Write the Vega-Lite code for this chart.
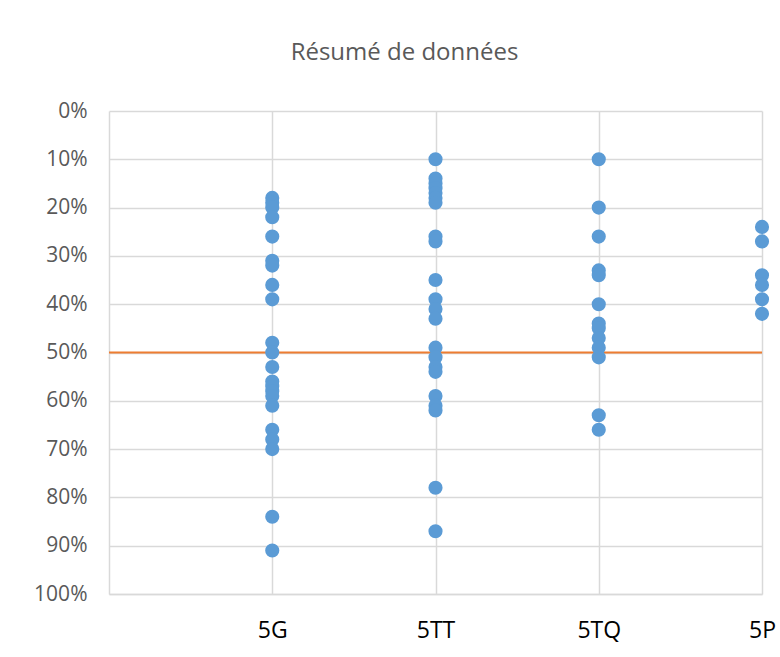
{
  "$schema": "https://vega.github.io/schema/vega-lite/v6.json",
  "width": 653,
  "height": 483,
  "autosize": "none",
  "padding": {"left": 109, "top": 111, "right": 18, "bottom": 63},
  "background": "white",
  "title": {
    "text": "Résumé de données",
    "font": "Open Sans",
    "fontSize": 24,
    "fontWeight": "normal",
    "color": "#595959",
    "anchor": "middle",
    "baseline": "alphabetic",
    "dx": -31,
    "offset": 16
  },
  "config": {
    "view": {"stroke": null},
    "axis": {
      "labelFont": "Open Sans",
      "labelColor": "#595959",
      "gridColor": "#d9d9d9",
      "gridWidth": 1.5,
      "domainColor": "#d9d9d9",
      "domainWidth": 1.5,
      "ticks": false,
      "tickSize": 0,
      "title": null
    }
  },
  "layer": [
    {
      "data": {"values": [{"seuil": 0.5}]},
      "mark": {"type": "rule", "color": "#ed7d31", "strokeWidth": 2},
      "encoding": {"y": {"field": "seuil", "type": "quantitative", "scale": {"domain": [0, 1], "reverse": true}}}
    },
    {
      "data": {
        "values": [
          {"classe": "5G", "rang": 1, "valeur": 0.18},
          {"classe": "5G", "rang": 1, "valeur": 0.19},
          {"classe": "5G", "rang": 1, "valeur": 0.20},
          {"classe": "5G", "rang": 1, "valeur": 0.22},
          {"classe": "5G", "rang": 1, "valeur": 0.26},
          {"classe": "5G", "rang": 1, "valeur": 0.31},
          {"classe": "5G", "rang": 1, "valeur": 0.32},
          {"classe": "5G", "rang": 1, "valeur": 0.36},
          {"classe": "5G", "rang": 1, "valeur": 0.39},
          {"classe": "5G", "rang": 1, "valeur": 0.48},
          {"classe": "5G", "rang": 1, "valeur": 0.50},
          {"classe": "5G", "rang": 1, "valeur": 0.53},
          {"classe": "5G", "rang": 1, "valeur": 0.56},
          {"classe": "5G", "rang": 1, "valeur": 0.57},
          {"classe": "5G", "rang": 1, "valeur": 0.58},
          {"classe": "5G", "rang": 1, "valeur": 0.59},
          {"classe": "5G", "rang": 1, "valeur": 0.61},
          {"classe": "5G", "rang": 1, "valeur": 0.66},
          {"classe": "5G", "rang": 1, "valeur": 0.68},
          {"classe": "5G", "rang": 1, "valeur": 0.70},
          {"classe": "5G", "rang": 1, "valeur": 0.84},
          {"classe": "5G", "rang": 1, "valeur": 0.91},
          {"classe": "5TT", "rang": 2, "valeur": 0.10},
          {"classe": "5TT", "rang": 2, "valeur": 0.14},
          {"classe": "5TT", "rang": 2, "valeur": 0.15},
          {"classe": "5TT", "rang": 2, "valeur": 0.16},
          {"classe": "5TT", "rang": 2, "valeur": 0.17},
          {"classe": "5TT", "rang": 2, "valeur": 0.18},
          {"classe": "5TT", "rang": 2, "valeur": 0.19},
          {"classe": "5TT", "rang": 2, "valeur": 0.26},
          {"classe": "5TT", "rang": 2, "valeur": 0.27},
          {"classe": "5TT", "rang": 2, "valeur": 0.35},
          {"classe": "5TT", "rang": 2, "valeur": 0.39},
          {"classe": "5TT", "rang": 2, "valeur": 0.41},
          {"classe": "5TT", "rang": 2, "valeur": 0.43},
          {"classe": "5TT", "rang": 2, "valeur": 0.49},
          {"classe": "5TT", "rang": 2, "valeur": 0.51},
          {"classe": "5TT", "rang": 2, "valeur": 0.53},
          {"classe": "5TT", "rang": 2, "valeur": 0.54},
          {"classe": "5TT", "rang": 2, "valeur": 0.59},
          {"classe": "5TT", "rang": 2, "valeur": 0.61},
          {"classe": "5TT", "rang": 2, "valeur": 0.62},
          {"classe": "5TT", "rang": 2, "valeur": 0.78},
          {"classe": "5TT", "rang": 2, "valeur": 0.87},
          {"classe": "5TQ", "rang": 3, "valeur": 0.10},
          {"classe": "5TQ", "rang": 3, "valeur": 0.20},
          {"classe": "5TQ", "rang": 3, "valeur": 0.26},
          {"classe": "5TQ", "rang": 3, "valeur": 0.33},
          {"classe": "5TQ", "rang": 3, "valeur": 0.34},
          {"classe": "5TQ", "rang": 3, "valeur": 0.40},
          {"classe": "5TQ", "rang": 3, "valeur": 0.44},
          {"classe": "5TQ", "rang": 3, "valeur": 0.45},
          {"classe": "5TQ", "rang": 3, "valeur": 0.47},
          {"classe": "5TQ", "rang": 3, "valeur": 0.49},
          {"classe": "5TQ", "rang": 3, "valeur": 0.51},
          {"classe": "5TQ", "rang": 3, "valeur": 0.63},
          {"classe": "5TQ", "rang": 3, "valeur": 0.66},
          {"classe": "5P", "rang": 4, "valeur": 0.24},
          {"classe": "5P", "rang": 4, "valeur": 0.27},
          {"classe": "5P", "rang": 4, "valeur": 0.34},
          {"classe": "5P", "rang": 4, "valeur": 0.36},
          {"classe": "5P", "rang": 4, "valeur": 0.39},
          {"classe": "5P", "rang": 4, "valeur": 0.42}
        ]
      },
      "mark": {"type": "circle", "size": 200, "opacity": 1, "color": "#5b9bd5"},
      "encoding": {
        "x": {
          "field": "rang",
          "type": "quantitative",
          "scale": {"domain": [0, 4], "nice": false},
          "axis": {
            "values": [1, 2, 3, 4],
            "labelExpr": "datum.value == 1 ? '5G' : datum.value == 2 ? '5TT' : datum.value == 3 ? '5TQ' : '5P'",
            "grid": true,
            "labelFontSize": 23,
            "labelBaseline": "alphabetic",
            "labelPadding": 43,
            "labelColor": "#000000",
            "labelFlush": false,
            "labelOverlap": false
          }
        },
        "y": {
          "field": "valeur",
          "type": "quantitative",
          "scale": {"domain": [0, 1], "reverse": true, "nice": false},
          "axis": {
            "values": [0, 0.1, 0.2, 0.3, 0.4, 0.5, 0.6, 0.7, 0.8, 0.9, 1],
            "format": ".0%",
            "grid": true,
            "labelFontSize": 21,
            "labelPadding": 22,
            "labelBaseline": "middle",
            "labelFlush": false,
            "labelOverlap": false
          }
        }
      }
    }
  ]
}
